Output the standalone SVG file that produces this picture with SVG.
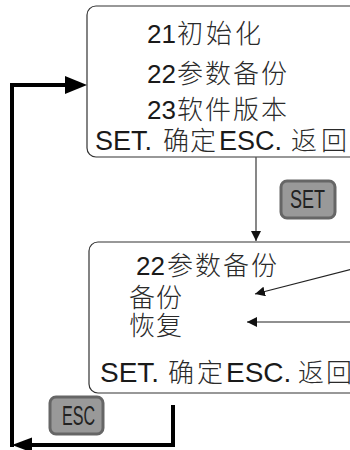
<svg xmlns="http://www.w3.org/2000/svg" width="350" height="450" viewBox="0 0 350 450">
<style>
.box{fill:#fff;stroke:#333;stroke-width:1.2}
.lat{font-family:"Liberation Sans",Arial,sans-serif;fill:#1a1a1a}
.cjk{font-family:"Noto Sans CJK SC","Noto Sans CJK JP",sans-serif;font-weight:300;fill:#2a2a2a}
.btn{fill:#999;stroke:#666;stroke-width:3}
.btxt{font-family:"Liberation Sans",Arial,sans-serif;fill:#222}
.thick{fill:none;stroke:#000;stroke-width:4}
.thin{fill:none;stroke:#222;stroke-width:1.2}
</style>
<defs>
<marker id="ah" viewBox="0 0 10 10" refX="10" refY="5" markerWidth="10" markerHeight="10" markerUnits="userSpaceOnUse" orient="auto">
<path d="M0,0 L10,5 L0,10 Z" fill="#111"/>
</marker>
</defs>
<g id="menu1">
<rect class="box" x="87" y="6" width="300" height="151" rx="9"/>
<text y="43" font-size="26"><tspan class="lat" x="147">21</tspan><tspan class="cjk" x="177 206 235">初始化</tspan></text>
<text y="83" font-size="26"><tspan class="lat" x="147">22</tspan><tspan class="cjk" x="177 205 233 261">参数备份</tspan></text>
<text y="119" font-size="26"><tspan class="lat" x="147">23</tspan><tspan class="cjk" x="177 205 233 261">软件版本</tspan></text>
<text y="150" font-size="27"><tspan class="lat" x="95">SET.</tspan><tspan class="cjk" x="163 190" font-size="26">确定</tspan><tspan class="lat" x="219">ESC.</tspan><tspan class="cjk" x="291 321" font-size="26">返回</tspan></text>
</g>
<g id="menu2">
<rect class="box" x="89" y="242" width="300" height="151" rx="9"/>
<text y="275" font-size="26"><tspan class="lat" x="136">22</tspan><tspan class="cjk" x="167 195 223 251">参数备份</tspan></text>
<text class="cjk" y="307" font-size="26" x="129 156">备份</text>
<text class="cjk" y="335" font-size="26" x="129 156">恢复</text>
<text y="382" font-size="28"><tspan class="lat" x="100">SET.</tspan><tspan class="cjk" x="168 197" font-size="26">确定</tspan><tspan class="lat" x="226">ESC.</tspan><tspan class="cjk" x="298 326" font-size="26">返回</tspan></text>
</g>
<g id="set-key">
<rect class="btn" x="281" y="181" width="54" height="37" rx="6"/>
<text class="btxt" x="290" y="208" font-size="25" textLength="35" lengthAdjust="spacingAndGlyphs">SET</text>
</g>
<g id="esc-key">
<rect class="btn" x="50" y="397" width="53" height="37" rx="6"/>
<text class="btxt" x="62" y="425" font-size="27" textLength="33" lengthAdjust="spacingAndGlyphs">ESC</text>
</g>
<g id="connectors">
<line x1="256" y1="157" x2="256" y2="241" stroke="#555" stroke-width="1.4" marker-end="url(#ah)"/>
<line class="thin" x1="352" y1="269" x2="255" y2="294" marker-end="url(#ah)"/>
<line class="thin" x1="352" y1="322" x2="247" y2="322" marker-end="url(#ah)"/>
<path class="thick" d="M12,447 V85 H66"/>
<path d="M65,76 L87,85 L65,94 Z" fill="#000"/>
<path class="thick" d="M173,405 V445 H30"/>
<path d="M32,437.5 L12,445 L32,452.5 Z" fill="#000"/>
</g>
</svg>
